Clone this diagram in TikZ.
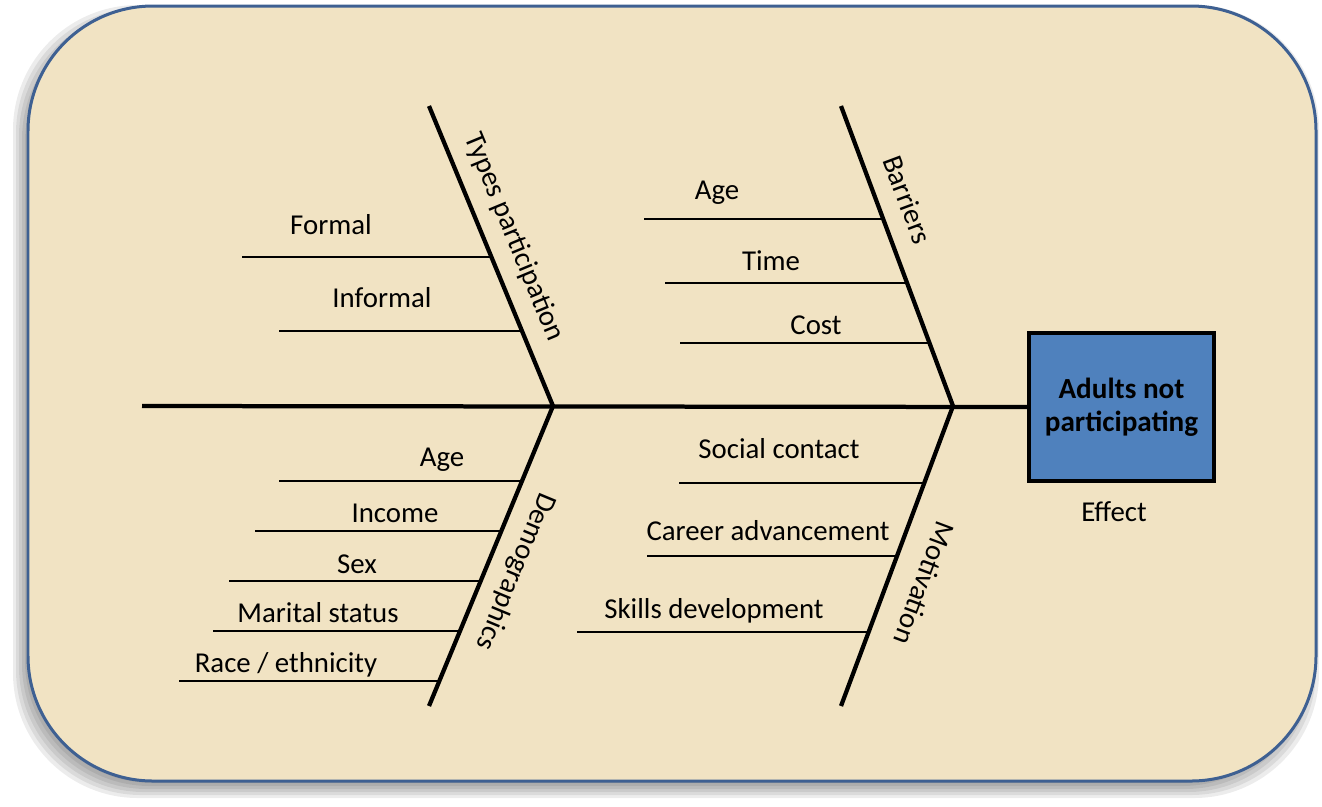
\documentclass[tikz,border=0pt]{standalone}
\usepackage{fontspec}
\setmainfont{Carlito}
\usepackage{tikz}
\usetikzlibrary{positioning}
\definecolor{parchment}{RGB}{241,227,195}
\definecolor{rimblue}{RGB}{62,96,146}
\definecolor{effectblue}{RGB}{79,129,189}
\tikzset{bone/.style={line width=0.085cm},
  twig/.style={line width=0.055cm},
  cause/.style={font=\fontsize{16.4}{19.6}\selectfont,anchor=base,inner sep=0pt},
  category/.style={font=\fontsize{16.4}{19.6}\selectfont,inner sep=0pt},
  effectbox/.style={draw=black,line width=0.08cm,fill=effectblue,minimum width=3.7cm,minimum height=2.96cm,inner sep=0pt,align=center,font=\bfseries\fontsize{16.6}{18.6}\selectfont}}

\begin{document}
\begin{tikzpicture}[x=0.02cm,y=-0.02cm]
            \useasboundingbox (0,0) rectangle (1322,806);
            % shadow and parchment card
            \foreach \s in {0,3,...,15}
                \fill[black,opacity=0.075,rounded corners=2.5cm] (28-\s,20-\s) rectangle (1304+\s,783+\s);
            \filldraw[draw=rimblue,fill=parchment,line width=0.06cm,rounded corners=2.5cm] (28,6) rectangle (1316,781);
            % effect and spine
            \node[effectbox] (effect) at (1121.5,407) {Adults not\\participating};
            \node[cause] (leffect) at (1114,521) {Effect};
            \coordinate (tail) at (142,406);
            \draw[bone] (tail) -- (effect.west);
            \coordinate (J1) at (553,406);
            \coordinate (T1) at (429,106);
            \coordinate (B1) at (429,706);
            \coordinate (J2) at (953,406);
            \coordinate (T2) at (841,106);
            \coordinate (B2) at (841,706);
            \draw[bone] (T1) -- (J1) -- (B1);
            \draw[bone] (T2) -- (J2) -- (B2);
            % types participation
            \path (J1) -- (T1) coordinate[pos=.497] (tp1) coordinate[pos=.25] (tp2);
            \draw[twig] (tp1) -- ++(-249,0);
            \draw[twig] (tp2) -- ++(-243,0);
            \node[category,rotate=-67.5] (ctypes) at (514,237.5) {Types participation};
            \node[cause] (lformal) at (331,234) {Formal};
            \node[cause] (linformal) at (382,307) {Informal};
            % barriers
            \path (J2) -- (T2) coordinate[pos=.623] (br1) coordinate[pos=.41] (br2) coordinate[pos=.21] (br3);
            \draw[twig] (br1) -- ++(-239,0);
            \draw[twig] (br2) -- ++(-242,0);
            \draw[twig] (br3) -- ++(-249,0);
            \node[category,rotate=-69.5] (cbarriers) at (907.5,199.5) {Barriers};
            \node[cause] (lage1) at (717,199) {Age};
            \node[cause] (ltime) at (771,270) {Time};
            \node[cause] (lcost) at (816,334) {Cost};
            % demographics
            \path (J1) -- (B1) coordinate[pos=.25] (dm1) coordinate[pos=.417] (dm2) coordinate[pos=.583] (dm3)
                coordinate[pos=.75] (dm4) coordinate[pos=.917] (dm5);
            \draw[twig] (dm1) -- ++(-243,0);
            \draw[twig] (dm2) -- ++(-246,0);
            \draw[twig] (dm3) -- ++(-252,0);
            \draw[twig] (dm4) -- ++(-247,0);
            \draw[twig] (dm5) -- ++(-260,0);
            \node[category,rotate=-112.5] (cdemo) at (515.5,571.5) {Demographics};
            \node[cause] (lage2) at (442,466) {Age};
            \node[cause] (lincome) at (395,522) {Income};
            \node[cause] (lsex) at (357,573) {Sex};
            \node[cause] (lmarital) at (318,622) {Marital status};
            \node[cause] (lrace) at (286,672) {Race / ethnicity};
            % motivation
            \path (J2) -- (B2) coordinate[pos=.257] (mo1) coordinate[pos=.5] (mo2) coordinate[pos=.753] (mo3);
            \draw[twig] (mo1) -- ++(-245,0);
            \draw[twig] (mo2) -- ++(-250,0);
            \draw[twig] (mo3) -- ++(-292,0);
            \node[category,rotate=-110.5] (cmotiv) at (924.5,583.5) {Motivation};
            \node[cause] (lsocial) at (779,458) {Social contact};
            \node[cause] (lcareer) at (768,540) {Career advancement};
            \node[cause] (lskills) at (714,618) {Skills development};
        \end{tikzpicture}
\end{document}
